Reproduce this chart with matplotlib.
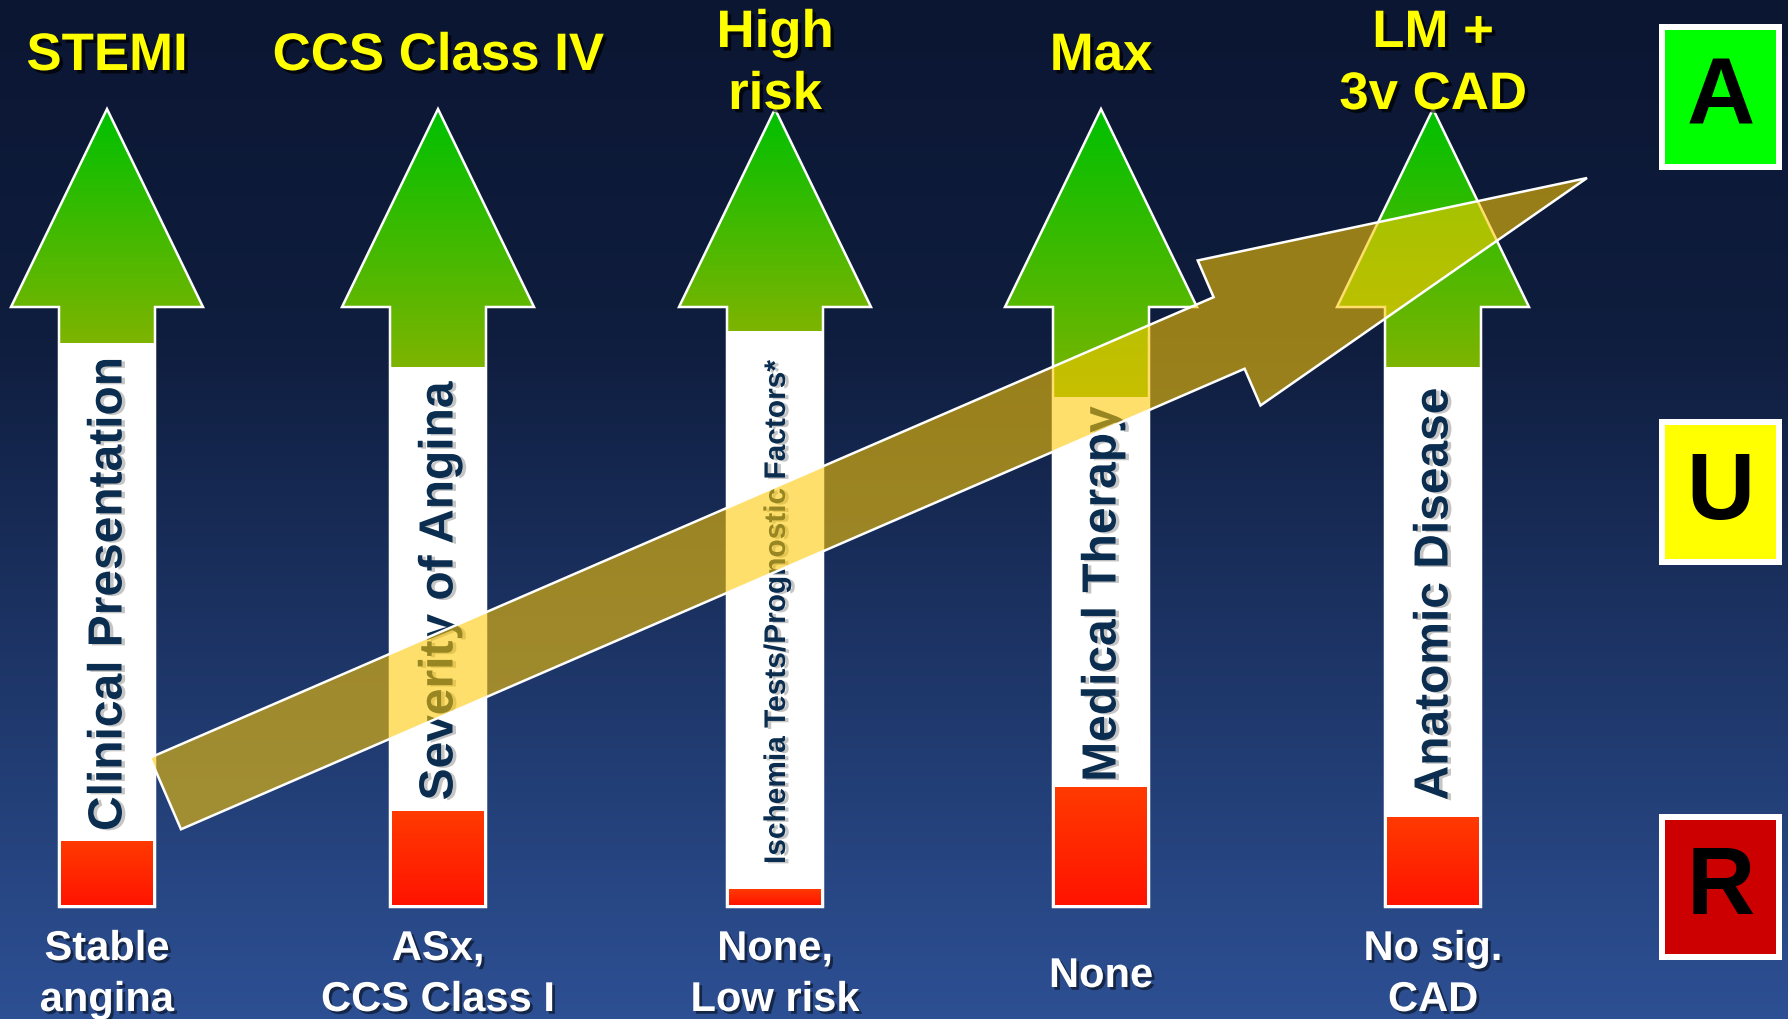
import numpy as np
import matplotlib.pyplot as plt
from matplotlib.patches import Polygon, Rectangle
import matplotlib.patheffects as pe

plt.rcParams['font.family'] = ['Liberation Sans', 'DejaVu Sans']

W, H = 1788, 1020

# Five assessment axes, each drawn as an upward arrow
axis_names = ['Clinical Presentation', 'Severity of Angina',
              'Ischemia Tests/Prognostic Factors*', 'Medical Therapy',
              'Anatomic Disease']
top_labels = ['STEMI', 'CCS Class IV', 'High\nrisk', 'Max', 'LM +\n3v CAD']
bottom_labels = ['Stable\nangina', 'ASx,\nCCS Class I', 'None,\nLow risk',
                 'None', 'No sig.\nCAD']
# share of the shaft painted red (bottom) and green (top, below the head)
red_level = [0.11, 0.16, 0.03, 0.20, 0.15]
green_level = [0.06, 0.10, 0.04, 0.15, 0.10]

# Appropriateness ratings on the right
ratings = ['A', 'U', 'R']
rating_colors = ['#00FF00', '#FFFF00', '#CC0000']

fig = plt.figure(figsize=(W / 100, H / 100), dpi=100)
ax = fig.add_axes([0, 0, 1, 1])
ax.set_xlim(0, W)
ax.set_ylim(H, 0)
ax.axis('off')

# background: dark navy at the top fading to blue at the bottom
yy = np.linspace(0, 1, 256)
top_c = np.array([11, 22, 50]) / 255
mid_c = np.array([15, 29, 62]) / 255
bot_c = np.array([45, 80, 148]) / 255
t = np.clip((yy - 0.33) / 0.67, 0, 1)[:, None]
bg = np.where(yy[:, None] < 0.33,
              top_c + (mid_c - top_c) * (yy[:, None] / 0.33),
              mid_c + (bot_c - mid_c) * t)
ax.imshow(bg[:, None, :], extent=(0, W, H, 0), aspect='auto', zorder=0)


def vgrad(c0, c1, n=128):
    c0 = np.array(c0) / 255
    c1 = np.array(c1) / 255
    s = np.linspace(0, 1, n)[:, None]
    return (c0 + (c1 - c0) * s)[:, None, :]


xs = [107, 438, 775, 1101, 1433]
tip_y, base_y, bottom_y = 110, 308, 908
head_hw, shaft_hw = 96, 48
shaft_len = bottom_y - base_y

for i, cx in enumerate(xs):
    outline = [(cx, tip_y), (cx + head_hw, base_y), (cx + shaft_hw, base_y),
               (cx + shaft_hw, bottom_y), (cx - shaft_hw, bottom_y),
               (cx - shaft_hw, base_y), (cx - head_hw, base_y)]
    body = Polygon(outline, closed=True, facecolor='white', edgecolor='none', zorder=2)
    ax.add_patch(body)

    green_end = base_y + green_level[i] * shaft_len
    img = ax.imshow(vgrad((0, 192, 0), (125, 180, 0)),
                    extent=(cx - head_hw, cx + head_hw, green_end, tip_y),
                    aspect='auto', zorder=3)
    img.set_clip_path(body)

    red_top = bottom_y - red_level[i] * shaft_len
    ax.imshow(vgrad((255, 58, 0), (255, 20, 0)),
              extent=(cx - shaft_hw + 2, cx + shaft_hw - 2, bottom_y - 2, red_top),
              aspect='auto', zorder=3)

    ax.add_patch(Polygon(outline, closed=True, facecolor='none',
                         edgecolor='white', lw=1.8, zorder=4))

    fs = 21.5 if len(axis_names[i]) > 25 else 34.5
    ax.text(cx + 2, (green_end + red_top) / 2 + 2, axis_names[i], rotation=90,
            ha='center', va='center', rotation_mode='anchor',
            fontsize=fs, fontweight='bold', color='#0B2D4F', zorder=5,
            path_effects=[pe.withSimplePatchShadow(offset=(2.5, -1),
                                                   shadow_rgbFace='#808080', alpha=0.45)])

    # yellow label above each arrow
    lines = top_labels[i].split('\n')
    ys = [57] if len(lines) == 1 else [34, 96]
    for line, ly in zip(lines, ys):
        ax.text(cx, ly, line, ha='center', va='center', fontsize=38,
                fontweight='bold', color='#FFFF00', zorder=6,
                path_effects=[pe.withSimplePatchShadow(offset=(2.5, -2.5),
                                                       shadow_rgbFace='black', alpha=0.7)])

    # white label under each arrow
    lines = bottom_labels[i].split('\n')
    ys = [977] if len(lines) == 1 else [950, 1001]
    for line, ly in zip(lines, ys):
        ax.text(cx, ly, line, ha='center', va='center', fontsize=30,
                fontweight='bold', color='white', zorder=6,
                path_effects=[pe.withSimplePatchShadow(offset=(2, -2),
                                                       shadow_rgbFace='black', alpha=0.5)])

# translucent gold arrow sweeping across all axes
tail = np.array([165.5, 794.5])
tip = np.array([1587.0, 179.0])
d = (tip - tail) / np.linalg.norm(tip - tail)
n = np.array([-d[1], d[0]])
base = tip - 390 * d
w_shaft, w_head = 39, 79
big = [tail + w_shaft * n, base + w_shaft * n, base + w_head * n, tip,
       base - w_head * n, base - w_shaft * n, tail - w_shaft * n]
ax.add_patch(Polygon(big, closed=True, facecolor=(1.0, 0.785, 0.0, 0.575),
                     edgecolor='white', lw=1.8, zorder=7))

# rating boxes
box_x, box_w, box_h = 1659, 123, 146
for k, (lab, col) in enumerate(zip(ratings, rating_colors)):
    y0 = 25 + k * 395
    ax.add_patch(Rectangle((box_x, y0), box_w, box_h, facecolor='white',
                           edgecolor='none', zorder=8))
    ax.add_patch(Rectangle((box_x + 6, y0 + 6), box_w - 12, box_h - 12,
                           facecolor=col, edgecolor='none', zorder=9))
    ax.text(box_x + box_w / 2, y0 + box_h / 2 + 2, lab, ha='center', va='center',
            fontsize=68, fontweight='bold', color='black', zorder=10)

fig.savefig('out.png', dpi=100)
